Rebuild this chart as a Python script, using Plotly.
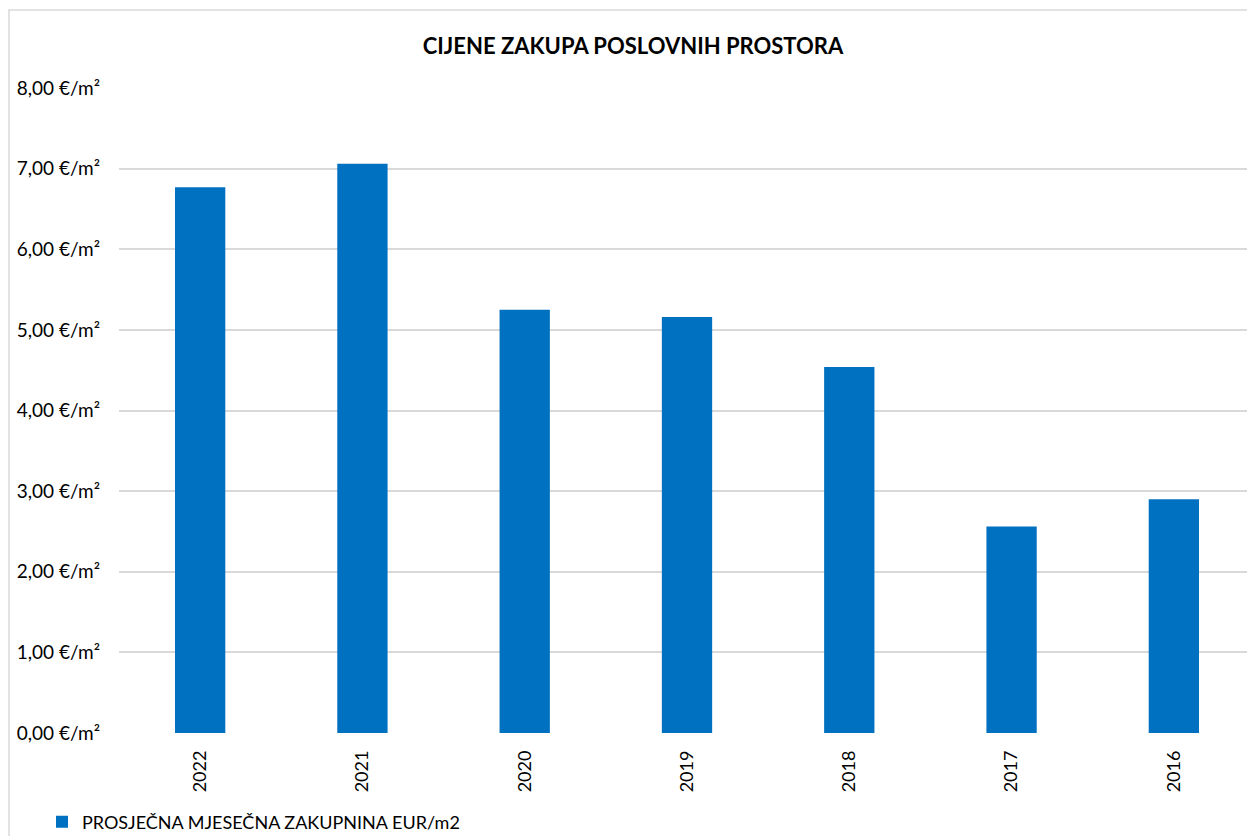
import plotly.graph_objects as go

years = ["2022", "2021", "2020", "2019", "2018", "2017", "2016"]
rent = [6.77, 7.06, 5.25, 5.16, 4.54, 2.56, 2.90]
series_name = "PROSJEČNA MJESEČNA ZAKUPNINA EUR/m2"
title = "CIJENE ZAKUPA POSLOVNIH PROSTORA"
y_ticks = [0, 1, 2, 3, 4, 5, 6, 7, 8]
y_labels = ["0,00 €/m²", "1,00 €/m²", "2,00 €/m²", "3,00 €/m²", "4,00 €/m²",
            "5,00 €/m²", "6,00 €/m²", "7,00 €/m²", "8,00 €/m²"]

FONT = "Lato"
W, H = 1247, 828          # page body has an 8px margin
L, T, B = 111, 80, 103
PW, PH = W - L, H - T - B

fig = go.Figure()
fig.add_trace(go.Bar(
    x=years, y=rent, name=series_name,
    marker=dict(color="#0070C0", line=dict(width=0)),
    width=0.31,
))

fig.update_layout(
    width=W, height=H,
    margin=dict(l=L, r=0, t=T, b=B, autoexpand=False),
    paper_bgcolor="white", plot_bgcolor="white",
    font=dict(family=FONT, size=18, color="#000000"),
    title=dict(text="<b>" + title + "</b>", x=625 / W, xref="container", xanchor="center",
               y=1 - 38 / H, yref="container", yanchor="middle",
               font=dict(family=FONT, size=22, color="#000000")),
    showlegend=True,
    legend=dict(orientation="h", x=(34 - L) / PW, xanchor="left",
                y=(T + PH - 814) / PH, yanchor="middle",
                font=dict(family=FONT, size=18), bgcolor="rgba(0,0,0,0)"),
)
fig.update_yaxes(range=[0, 8], tickvals=y_ticks, ticktext=y_labels,
                 showgrid=True, gridcolor="#D9D9D9", gridwidth=1.5,
                 zeroline=False, showline=False, ticks="", ticklabelstandoff=18,
                 tickfont=dict(family=FONT, size=19))
fig.update_xaxes(type="category", tickangle=-90, showgrid=False, showline=False,
                 ticks="", ticklabelstandoff=13,
                 tickfont=dict(family=FONT, size=18))
# outer chart border (left and top visible)
fig.add_shape(type="rect", xref="paper", yref="paper",
              x0=(1 - L) / PW, x1=1.05, y0=-0.3, y1=(T + PH - 2) / PH,
              line=dict(color="#D9D9D9", width=1.5), fillcolor="rgba(0,0,0,0)", layer="below")

fig.write_html("out.html")
